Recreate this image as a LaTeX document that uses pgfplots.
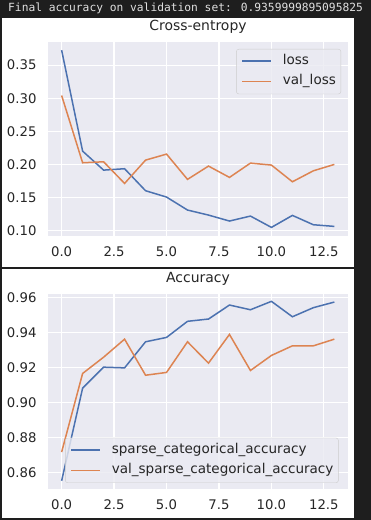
\documentclass[border=0pt]{standalone}
\usepackage{pgfplots}
\pgfplotsset{compat=1.18}
\usepackage{fontspec}
\setmainfont{DejaVu Sans}
\newfontfamily\monofont{DejaVu Sans Mono}
\definecolor{sbblue}{HTML}{4C72B0}
\definecolor{sborange}{HTML}{DD8452}
\definecolor{sbbg}{HTML}{EAEAF2}
\definecolor{sbtext}{HTML}{262626}
\definecolor{darkbg}{HTML}{1E1E1E}
\definecolor{legedge}{HTML}{CCCCCC}
\definecolor{termtext}{HTML}{E0E0E0}

\pgfplotsset{
  sbstyle/.style={
    scale only axis, width=300bp,
    axis background/.style={fill=sbbg},
    axis line style={draw=none},
    major tick length=0pt,
    tick style={draw=none},
    grid=major, major grid style={white, line width=1.2bp},
    xmin=-0.65, xmax=13.65,
    xtick={0,2.5,5,7.5,10,12.5},
    /pgf/number format/assume math mode=true,
    ticklabel style={font=\fontsize{13.3}{16}\selectfont, text=sbtext, inner sep=0pt},
    xticklabel style={anchor=base, yshift=-20.5bp,
      /pgf/number format/fixed, /pgf/number format/fixed zerofill, /pgf/number format/precision=1},
    yticklabel style={anchor=east, xshift=-11.3bp,
      /pgf/number format/fixed, /pgf/number format/fixed zerofill, /pgf/number format/precision=2},
    title style={font=\fontsize{14}{17}\selectfont, text=sbtext, at={(0.5,1)}, anchor=base, yshift=6bp, inner sep=0pt},
    legend style={fill=sbbg, fill opacity=0.8, draw opacity=1, text opacity=1, draw=legedge,
      rounded corners=2.5bp, font=\fontsize{13.6}{16}\selectfont, text=sbtext,
      inner xsep=5bp, inner ysep=5.5bp, row sep=6.8bp, column sep=11bp,
      nodes={inner sep=0pt, text height=10bp, text depth=3.5bp, anchor=base west}},
    legend cell align=left,
    legend image code/.code={\draw[#1, line width=1.5bp] (0bp,3.5bp) -- (29bp,3.5bp);},
    every axis plot/.append style={line width=1.5bp},
  }
}

\begin{document}
\begin{tikzpicture}
\fill[darkbg] (0,0) rectangle (371bp,-520bp);
\fill[white] (2bp,-17.5bp) rectangle (354bp,-266.5bp);
\fill[white] (2bp,-268.5bp) rectangle (354bp,-518bp);
\node[anchor=base west, inner sep=0pt, text=termtext, font=\monofont\fontsize{11.3}{13}\selectfont] at (8bp,-11bp) {Final accuracy on validation set: 0.9359999895095825};

\begin{axis}[sbstyle, height=194bp,
  at={(48bp,-42bp)}, anchor=north west,
  title={Cross-entropy},
  ymin=0.092, ymax=0.385,
  ytick={0.10,0.15,0.20,0.25,0.30,0.35},
  legend style={at={(0.977,0.964)}, anchor=north east},
]
\addplot[sbblue] coordinates {
(0,0.3726) (1,0.2202) (2,0.1915) (3,0.1936) (4,0.1604) (5,0.1508) (6,0.1312)
(7,0.1236) (8,0.1146) (9,0.1221) (10,0.1050) (11,0.1231) (12,0.1090) (13,0.1065)};
\addlegendentry{loss}
\addplot[sborange] coordinates {
(0,0.3042) (1,0.2026) (2,0.2041) (3,0.1714) (4,0.2066) (5,0.2157) (6,0.1775)
(7,0.1976) (8,0.1805) (9,0.2021) (10,0.1991) (11,0.1739) (12,0.1905) (13,0.2001)};
\addlegendentry{val\_loss}
\end{axis}

\begin{axis}[sbstyle, height=195bp,
  at={(48bp,-294bp)}, anchor=north west,
  title={Accuracy},
  ymin=0.8505, ymax=0.9619,
  ytick={0.86,0.88,0.90,0.92,0.94,0.96},
  legend style={at={(0.057,0.031)}, anchor=south west},
]
\addplot[sbblue] coordinates {
(0,0.8552) (1,0.9081) (2,0.9201) (3,0.9197) (4,0.9346) (5,0.9371) (6,0.9463)
(7,0.9476) (8,0.9556) (9,0.9529) (10,0.9577) (11,0.9489) (12,0.9541) (13,0.9573)};
\addlegendentry{sparse\_categorical\_accuracy}
\addplot[sborange] coordinates {
(0,0.8716) (1,0.9165) (2,0.9258) (3,0.9361) (4,0.9155) (5,0.9171) (6,0.9346)
(7,0.9224) (8,0.9388) (9,0.9182) (10,0.9268) (11,0.9323) (12,0.9323) (13,0.9361)};
\addlegendentry{val\_sparse\_categorical\_accuracy}
\end{axis}
\end{tikzpicture}
\end{document}
